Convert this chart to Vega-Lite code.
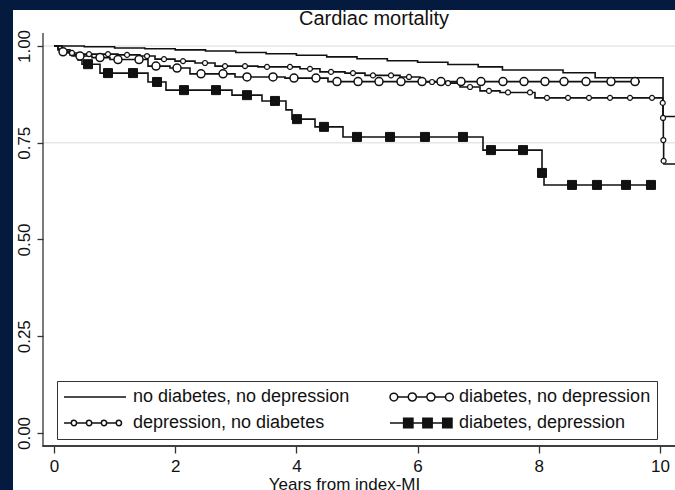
{
  "$schema": "https://vega.github.io/schema/vega-lite/v6.json",
  "width": 662,
  "height": 480,
  "autosize": {"type": "none"},
  "padding": {"left": 13, "top": 10, "right": 0, "bottom": 0},
  "background": "#041b3f",
  "title": {"text": "Cardiac mortality", "fontSize": 20, "font": "Liberation Sans", "fontWeight": "normal", "color": "#111111", "anchor": "middle", "offset": -19, "dx": 30},
  "config": {
    "view": {"fill": "white", "stroke": null},
    "legend": {
      "orient": "none", "legendX": 44, "legendY": 371, "columns": 2, "columnPadding": 39, "rowPadding": 6,
      "padding": 6, "strokeColor": "#333333", "fillColor": "white",
      "labelFont": "Liberation Sans", "labelFontSize": 18, "labelColor": "#111111", "labelOffset": 6, "labelLimit": 400,
      "symbolSize": 3844, "symbolStrokeColor": "black", "symbolStrokeWidth": 1.5, "symbolOpacity": 1, "clipHeight": 20, "symbolOffset": 0
    }
  },
  "datasets": {
    "km": [
    {"g": "no diabetes, no depression", "t": 0, "s": 1, "c": 0},
    {"g": "no diabetes, no depression", "t": 0.5, "s": 0.998, "c": 0},
    {"g": "no diabetes, no depression", "t": 1, "s": 0.995, "c": 0},
    {"g": "no diabetes, no depression", "t": 1.5, "s": 0.993, "c": 0},
    {"g": "no diabetes, no depression", "t": 2, "s": 0.99, "c": 0},
    {"g": "no diabetes, no depression", "t": 2.5, "s": 0.987, "c": 0},
    {"g": "no diabetes, no depression", "t": 3, "s": 0.983, "c": 0},
    {"g": "no diabetes, no depression", "t": 3.5, "s": 0.98, "c": 0},
    {"g": "no diabetes, no depression", "t": 4, "s": 0.976, "c": 0},
    {"g": "no diabetes, no depression", "t": 4.5, "s": 0.972, "c": 0},
    {"g": "no diabetes, no depression", "t": 5, "s": 0.967, "c": 0},
    {"g": "no diabetes, no depression", "t": 5.5, "s": 0.962, "c": 0},
    {"g": "no diabetes, no depression", "t": 6, "s": 0.958, "c": 0},
    {"g": "no diabetes, no depression", "t": 6.5, "s": 0.952, "c": 0},
    {"g": "no diabetes, no depression", "t": 7, "s": 0.946, "c": 0},
    {"g": "no diabetes, no depression", "t": 7.4, "s": 0.938, "c": 0},
    {"g": "no diabetes, no depression", "t": 8.4, "s": 0.931, "c": 0},
    {"g": "no diabetes, no depression", "t": 8.93, "s": 0.918, "c": 0},
    {"g": "no diabetes, no depression", "t": 10.05, "s": 0.818, "c": 0},
    {"g": "no diabetes, no depression", "t": 10.25, "s": 0.818, "c": 0},

    {"g": "diabetes, no depression", "t": 0, "s": 1, "c": 0},
    {"g": "diabetes, no depression", "t": 0.066, "s": 0.99, "c": 0},
    {"g": "diabetes, no depression", "t": 0.149, "s": 0.985, "c": 1},
    {"g": "diabetes, no depression", "t": 0.297, "s": 0.974, "c": 0},
    {"g": "diabetes, no depression", "t": 0.429, "s": 0.974, "c": 1},
    {"g": "diabetes, no depression", "t": 0.627, "s": 0.97, "c": 0},
    {"g": "diabetes, no depression", "t": 0.759, "s": 0.97, "c": 1},
    {"g": "diabetes, no depression", "t": 0.924, "s": 0.965, "c": 0},
    {"g": "diabetes, no depression", "t": 1.056, "s": 0.965, "c": 1},
    {"g": "diabetes, no depression", "t": 1.403, "s": 0.965, "c": 1},
    {"g": "diabetes, no depression", "t": 1.551, "s": 0.948, "c": 0},
    {"g": "diabetes, no depression", "t": 1.683, "s": 0.948, "c": 1},
    {"g": "diabetes, no depression", "t": 1.914, "s": 0.943, "c": 0},
    {"g": "diabetes, no depression", "t": 2.03, "s": 0.943, "c": 1},
    {"g": "diabetes, no depression", "t": 2.244, "s": 0.928, "c": 0},
    {"g": "diabetes, no depression", "t": 2.426, "s": 0.928, "c": 1},
    {"g": "diabetes, no depression", "t": 2.789, "s": 0.928, "c": 1},
    {"g": "diabetes, no depression", "t": 2.987, "s": 0.92, "c": 0},
    {"g": "diabetes, no depression", "t": 3.185, "s": 0.92, "c": 1},
    {"g": "diabetes, no depression", "t": 3.614, "s": 0.92, "c": 1},
    {"g": "diabetes, no depression", "t": 3.812, "s": 0.917, "c": 0},
    {"g": "diabetes, no depression", "t": 3.96, "s": 0.917, "c": 1},
    {"g": "diabetes, no depression", "t": 4.323, "s": 0.917, "c": 1},
    {"g": "diabetes, no depression", "t": 4.521, "s": 0.908, "c": 0},
    {"g": "diabetes, no depression", "t": 4.67, "s": 0.908, "c": 1},
    {"g": "diabetes, no depression", "t": 5.017, "s": 0.908, "c": 1},
    {"g": "diabetes, no depression", "t": 5.363, "s": 0.908, "c": 1},
    {"g": "diabetes, no depression", "t": 5.726, "s": 0.908, "c": 1},
    {"g": "diabetes, no depression", "t": 6.073, "s": 0.908, "c": 1},
    {"g": "diabetes, no depression", "t": 6.386, "s": 0.908, "c": 1},
    {"g": "diabetes, no depression", "t": 6.716, "s": 0.908, "c": 1},
    {"g": "diabetes, no depression", "t": 7.046, "s": 0.908, "c": 1},
    {"g": "diabetes, no depression", "t": 7.409, "s": 0.908, "c": 1},
    {"g": "diabetes, no depression", "t": 7.756, "s": 0.908, "c": 1},
    {"g": "diabetes, no depression", "t": 8.102, "s": 0.908, "c": 1},
    {"g": "diabetes, no depression", "t": 8.416, "s": 0.908, "c": 1},
    {"g": "diabetes, no depression", "t": 8.779, "s": 0.908, "c": 1},
    {"g": "diabetes, no depression", "t": 9.191, "s": 0.908, "c": 1},
    {"g": "diabetes, no depression", "t": 9.587, "s": 0.908, "c": 1},
    {"g": "diabetes, no depression", "t": 9.67, "s": 0.908, "c": 0},

    {"g": "depression, no diabetes", "t": 0, "s": 1, "c": 0},
    {"g": "depression, no diabetes", "t": 0.066, "s": 0.992, "c": 0},
    {"g": "depression, no diabetes", "t": 0.149, "s": 0.985, "c": 1},
    {"g": "depression, no diabetes", "t": 0.231, "s": 0.982, "c": 0},
    {"g": "depression, no diabetes", "t": 0.297, "s": 0.982, "c": 1},
    {"g": "depression, no diabetes", "t": 0.429, "s": 0.979, "c": 0},
    {"g": "depression, no diabetes", "t": 0.578, "s": 0.979, "c": 1},
    {"g": "depression, no diabetes", "t": 0.891, "s": 0.979, "c": 1},
    {"g": "depression, no diabetes", "t": 1.056, "s": 0.977, "c": 0},
    {"g": "depression, no diabetes", "t": 1.205, "s": 0.977, "c": 1},
    {"g": "depression, no diabetes", "t": 1.419, "s": 0.974, "c": 0},
    {"g": "depression, no diabetes", "t": 1.535, "s": 0.974, "c": 1},
    {"g": "depression, no diabetes", "t": 1.667, "s": 0.966, "c": 0},
    {"g": "depression, no diabetes", "t": 1.815, "s": 0.966, "c": 1},
    {"g": "depression, no diabetes", "t": 1.997, "s": 0.961, "c": 0},
    {"g": "depression, no diabetes", "t": 2.129, "s": 0.961, "c": 1},
    {"g": "depression, no diabetes", "t": 2.327, "s": 0.956, "c": 0},
    {"g": "depression, no diabetes", "t": 2.492, "s": 0.956, "c": 1},
    {"g": "depression, no diabetes", "t": 2.657, "s": 0.948, "c": 0},
    {"g": "depression, no diabetes", "t": 2.822, "s": 0.948, "c": 1},
    {"g": "depression, no diabetes", "t": 3.152, "s": 0.948, "c": 1},
    {"g": "depression, no diabetes", "t": 3.366, "s": 0.946, "c": 0},
    {"g": "depression, no diabetes", "t": 3.515, "s": 0.946, "c": 1},
    {"g": "depression, no diabetes", "t": 3.894, "s": 0.946, "c": 1},
    {"g": "depression, no diabetes", "t": 4.059, "s": 0.941, "c": 0},
    {"g": "depression, no diabetes", "t": 4.224, "s": 0.941, "c": 1},
    {"g": "depression, no diabetes", "t": 4.389, "s": 0.933, "c": 0},
    {"g": "depression, no diabetes", "t": 4.571, "s": 0.933, "c": 1},
    {"g": "depression, no diabetes", "t": 4.802, "s": 0.93, "c": 0},
    {"g": "depression, no diabetes", "t": 4.934, "s": 0.93, "c": 1},
    {"g": "depression, no diabetes", "t": 5.132, "s": 0.924, "c": 0},
    {"g": "depression, no diabetes", "t": 5.264, "s": 0.924, "c": 1},
    {"g": "depression, no diabetes", "t": 5.561, "s": 0.924, "c": 1},
    {"g": "depression, no diabetes", "t": 5.71, "s": 0.92, "c": 0},
    {"g": "depression, no diabetes", "t": 5.858, "s": 0.92, "c": 1},
    {"g": "depression, no diabetes", "t": 6.04, "s": 0.907, "c": 0},
    {"g": "depression, no diabetes", "t": 6.238, "s": 0.907, "c": 1},
    {"g": "depression, no diabetes", "t": 6.37, "s": 0.904, "c": 0},
    {"g": "depression, no diabetes", "t": 6.502, "s": 0.904, "c": 1},
    {"g": "depression, no diabetes", "t": 6.7, "s": 0.894, "c": 0},
    {"g": "depression, no diabetes", "t": 6.865, "s": 0.894, "c": 1},
    {"g": "depression, no diabetes", "t": 7.03, "s": 0.884, "c": 0},
    {"g": "depression, no diabetes", "t": 7.178, "s": 0.884, "c": 1},
    {"g": "depression, no diabetes", "t": 7.36, "s": 0.88, "c": 0},
    {"g": "depression, no diabetes", "t": 7.492, "s": 0.88, "c": 1},
    {"g": "depression, no diabetes", "t": 7.855, "s": 0.88, "c": 1},
    {"g": "depression, no diabetes", "t": 7.937, "s": 0.866, "c": 0},
    {"g": "depression, no diabetes", "t": 8.135, "s": 0.866, "c": 1},
    {"g": "depression, no diabetes", "t": 8.482, "s": 0.866, "c": 1},
    {"g": "depression, no diabetes", "t": 8.828, "s": 0.866, "c": 1},
    {"g": "depression, no diabetes", "t": 9.175, "s": 0.866, "c": 1},
    {"g": "depression, no diabetes", "t": 9.505, "s": 0.866, "c": 1},
    {"g": "depression, no diabetes", "t": 9.868, "s": 0.866, "c": 1},
    {"g": "depression, no diabetes", "t": 10.045, "s": 0.853, "c": 1},
    {"g": "depression, no diabetes", "t": 10.05, "s": 0.814, "c": 1},
    {"g": "depression, no diabetes", "t": 10.055, "s": 0.757, "c": 1},
    {"g": "depression, no diabetes", "t": 10.06, "s": 0.703, "c": 1},
    {"g": "depression, no diabetes", "t": 10.065, "s": 0.695, "c": 0},
    {"g": "depression, no diabetes", "t": 10.25, "s": 0.695, "c": 0},

    {"g": "diabetes, depression", "t": 0, "s": 1, "c": 0},
    {"g": "diabetes, depression", "t": 0.132, "s": 0.99, "c": 0},
    {"g": "diabetes, depression", "t": 0.264, "s": 0.977, "c": 0},
    {"g": "diabetes, depression", "t": 0.396, "s": 0.964, "c": 0},
    {"g": "diabetes, depression", "t": 0.462, "s": 0.953, "c": 0},
    {"g": "diabetes, depression", "t": 0.561, "s": 0.953, "c": 1},
    {"g": "diabetes, depression", "t": 0.759, "s": 0.93, "c": 0},
    {"g": "diabetes, depression", "t": 0.891, "s": 0.93, "c": 1},
    {"g": "diabetes, depression", "t": 1.304, "s": 0.93, "c": 1},
    {"g": "diabetes, depression", "t": 1.551, "s": 0.907, "c": 0},
    {"g": "diabetes, depression", "t": 1.7, "s": 0.907, "c": 1},
    {"g": "diabetes, depression", "t": 1.848, "s": 0.886, "c": 0},
    {"g": "diabetes, depression", "t": 2.145, "s": 0.886, "c": 1},
    {"g": "diabetes, depression", "t": 2.673, "s": 0.886, "c": 1},
    {"g": "diabetes, depression", "t": 2.937, "s": 0.873, "c": 0},
    {"g": "diabetes, depression", "t": 3.185, "s": 0.873, "c": 1},
    {"g": "diabetes, depression", "t": 3.432, "s": 0.858, "c": 0},
    {"g": "diabetes, depression", "t": 3.647, "s": 0.858, "c": 1},
    {"g": "diabetes, depression", "t": 3.828, "s": 0.835, "c": 0},
    {"g": "diabetes, depression", "t": 3.927, "s": 0.811, "c": 0},
    {"g": "diabetes, depression", "t": 4.01, "s": 0.811, "c": 1},
    {"g": "diabetes, depression", "t": 4.307, "s": 0.791, "c": 0},
    {"g": "diabetes, depression", "t": 4.455, "s": 0.791, "c": 1},
    {"g": "diabetes, depression", "t": 4.769, "s": 0.765, "c": 0},
    {"g": "diabetes, depression", "t": 5.0, "s": 0.765, "c": 1},
    {"g": "diabetes, depression", "t": 5.545, "s": 0.765, "c": 1},
    {"g": "diabetes, depression", "t": 6.122, "s": 0.765, "c": 1},
    {"g": "diabetes, depression", "t": 6.749, "s": 0.765, "c": 1},
    {"g": "diabetes, depression", "t": 7.079, "s": 0.731, "c": 0},
    {"g": "diabetes, depression", "t": 7.211, "s": 0.731, "c": 1},
    {"g": "diabetes, depression", "t": 7.739, "s": 0.731, "c": 1},
    {"g": "diabetes, depression", "t": 8.053, "s": 0.672, "c": 1},
    {"g": "diabetes, depression", "t": 8.086, "s": 0.641, "c": 0},
    {"g": "diabetes, depression", "t": 8.548, "s": 0.641, "c": 1},
    {"g": "diabetes, depression", "t": 8.96, "s": 0.641, "c": 1},
    {"g": "diabetes, depression", "t": 9.439, "s": 0.641, "c": 1},
    {"g": "diabetes, depression", "t": 9.851, "s": 0.641, "c": 1},
    {"g": "diabetes, depression", "t": 9.917, "s": 0.641, "c": 0}
    ],
    "guides": [
      {"kind": "grid", "x0": -0.1815, "x1": 10.2475, "y0": 0.75, "y1": 0.75},
      {"kind": "grid", "x0": -0.1815, "x1": 10.2475, "y0": 1, "y1": 1},
      {"kind": "frame", "x0": -0.1815, "x1": 10.2475, "y0": -0.0336, "y1": -0.0336}
    ],
    "axislines": [
      {"x0": -0.1922, "x1": 10.2475, "y0": -0.0353, "y1": -0.0319},
      {"x0": -0.1922, "x1": -0.1708, "y0": -0.0353, "y1": 1.0336}
    ]
  },
  "layer": [
    {"data": {"name": "guides"}, "mark": {"type": "rule", "strokeWidth": 1.3},
     "encoding": {
       "x": {"field": "x0", "type": "quantitative"}, "x2": {"field": "x1"},
       "y": {"field": "y0", "type": "quantitative"}, "y2": {"field": "y1"},
       "color": {"field": "kind", "type": "nominal", "scale": {"domain": ["grid", "frame"], "range": ["#e6e6e6", "#333333"]}, "legend": null}}},
    {"data": {"name": "axislines"}, "mark": {"type": "rect", "fill": "#333333", "stroke": null},
     "encoding": {
       "x": {"field": "x0", "type": "quantitative"}, "x2": {"field": "x1"},
       "y": {"field": "y0", "type": "quantitative"}, "y2": {"field": "y1"}}},
    {"data": {"name": "km"},
     "mark": {"type": "line", "interpolate": "step-after", "stroke": "#111111", "strokeWidth": 1.6, "clip": true},
     "encoding": {
       "x": {"field": "t", "type": "quantitative",
         "scale": {"domain": [-0.6766, 10.2475], "nice": false, "zero": false},
         "axis": {"values": [0, 2, 4, 6, 8, 10], "format": "d", "offset": -44, "domain": false, "grid": false,
           "tickSize": 7, "tickColor": "#333333", "tickWidth": 1.3,
           "labelFont": "Liberation Sans", "labelFontSize": 17, "labelColor": "#111111", "labelPadding": 5,
           "title": "Years from index-MI", "titleFont": "Liberation Sans", "titleFontSize": 17, "titleFontWeight": "normal", "titleColor": "#111111", "titlePadding": 2}},
       "y": {"field": "s", "type": "quantitative",
         "scale": {"domain": [-0.1473, 1.093], "nice": false, "zero": false},
         "axis": {"values": [0, 0.25, 0.5, 0.75, 1], "format": ".2f", "offset": -30, "domain": false, "grid": false,
           "tickSize": 6, "tickColor": "#333333", "tickWidth": 1.3,
           "labelFont": "Liberation Sans", "labelFontSize": 17, "labelColor": "#111111", "labelPadding": 4,
           "labelAngle": 270, "labelAlign": "center", "labelBaseline": "bottom", "title": null}},
       "detail": {"field": "g"}}},
    {"data": {"name": "km"},
     "transform": [{"filter": "datum.c == 1 && datum.g == 'depression, no diabetes'"}],
     "mark": {"type": "point", "shape": "circle", "size": 25, "filled": true, "fill": "white", "stroke": "#111111", "strokeWidth": 1.2, "opacity": 1},
     "encoding": {"x": {"field": "t", "type": "quantitative"}, "y": {"field": "s", "type": "quantitative"}}},
    {"data": {"name": "km"},
     "transform": [{"filter": "datum.c == 1 && datum.g == 'diabetes, no depression'"}],
     "mark": {"type": "point", "shape": "circle", "size": 64, "filled": true, "fill": "white", "stroke": "#111111", "strokeWidth": 1.5, "opacity": 1},
     "encoding": {"x": {"field": "t", "type": "quantitative"}, "y": {"field": "s", "type": "quantitative"}}},
    {"data": {"name": "km"},
     "transform": [{"filter": "datum.c == 1 && datum.g == 'diabetes, depression'"}],
     "mark": {"type": "point", "shape": "square", "size": 81, "filled": true, "fill": "#111111", "stroke": "#111111", "strokeWidth": 1, "opacity": 1},
     "encoding": {"x": {"field": "t", "type": "quantitative"}, "y": {"field": "s", "type": "quantitative"}}},
    {"data": {"name": "km"},
     "mark": {"type": "point", "filled": true, "opacity": 0, "strokeWidth": 1.5},
     "encoding": {
       "x": {"field": "t", "type": "quantitative"}, "y": {"field": "s", "type": "quantitative"},
       "shape": {"field": "g", "type": "nominal",
         "scale": {"domain": ["no diabetes, no depression", "depression, no diabetes", "diabetes, no depression", "diabetes, depression"],
           "range": [
             "M-1,0L1,0",
             "M-1,0L-0.765,0M-0.595,0L-0.275,0M-0.105,0L0.205,0M0.375,0L0.685,0M-0.765,0A0.085,0.085 0 1,0 -0.595,0A0.085,0.085 0 1,0 -0.765,0ZM-0.275,0A0.085,0.085 0 1,0 -0.105,0A0.085,0.085 0 1,0 -0.275,0ZM0.205,0A0.085,0.085 0 1,0 0.375,0A0.085,0.085 0 1,0 0.205,0ZM0.685,0A0.085,0.085 0 1,0 0.855,0A0.085,0.085 0 1,0 0.685,0Z",
             "M-0.75,0L-0.41,0M-0.15,0L0.19,0M0.45,0L0.79,0M-1,0A0.125,0.125 0 1,0 -0.75,0A0.125,0.125 0 1,0 -1,0ZM-0.41,0A0.125,0.125 0 1,0 -0.15,0A0.125,0.125 0 1,0 -0.41,0ZM0.19,0A0.125,0.125 0 1,0 0.45,0A0.125,0.125 0 1,0 0.19,0ZM0.79,0A0.125,0.125 0 1,0 1.04,0A0.125,0.125 0 1,0 0.79,0Z",
             "M-1,0L0.85,0M-0.56,-0.15L-0.26,-0.15L-0.26,0.15L-0.56,0.15ZM0.06,-0.15L0.36,-0.15L0.36,0.15L0.06,0.15ZM0.7,-0.15L1,-0.15L1,0.15L0.7,0.15Z"
           ]},
         "legend": {"title": null}},
       "fill": {"field": "g", "type": "nominal",
         "scale": {"domain": ["no diabetes, no depression", "depression, no diabetes", "diabetes, no depression", "diabetes, depression"],
           "range": ["white", "white", "white", "#111111"]},
         "legend": {"title": null}},
       "stroke": {"field": "g", "type": "nominal",
         "scale": {"domain": ["no diabetes, no depression", "depression, no diabetes", "diabetes, no depression", "diabetes, depression"],
           "range": ["#111111", "#111111", "#111111", "#111111"]},
         "legend": {"title": null}}
     }}
  ]
}
